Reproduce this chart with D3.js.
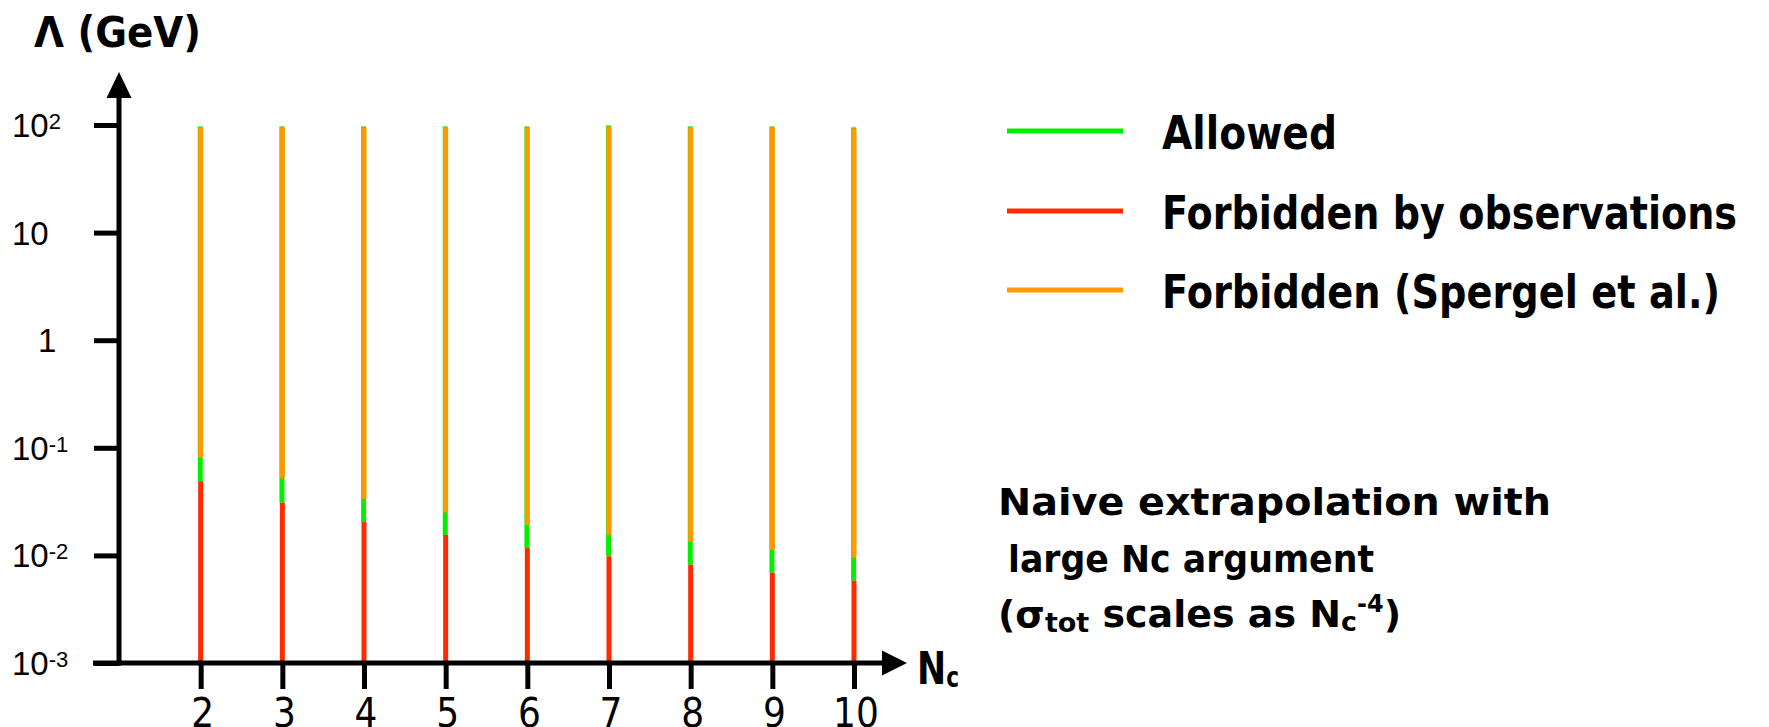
<!DOCTYPE html>
<html lang="en">
  <head>
    <meta charset="utf-8">
    <title>Lambda vs Nc</title>
    <style>
      body { margin: 0; background: #fff; }
      svg { display: block; }
      .bold { font-family: "DejaVu Sans", sans-serif; font-weight: bold; fill: #000; }
      .ticklab { font-family: "Liberation Sans", Arial, sans-serif; fill: #000; }
      .xlab { font-family: "Liberation Sans Narrow", "DejaVu Sans Condensed", sans-serif; font-stretch: condensed; fill: #000; }
    </style>
  </head>
  <body>
    <script src="https://d3js.org/d3.v7.min.js"></script>
    <script>
      // data
      const nc = [2, 3, 4, 5, 6, 7, 8, 9, 10];
      const observedTop = [0.049, 0.031, 0.0204, 0.0155, 0.0117, 0.0098, 0.0082, 0.0069, 0.0058];
      const allowedTop = [0.081, 0.052, 0.0335, 0.025, 0.0192, 0.0155, 0.0134, 0.0112, 0.0095];
      const barTop = [95, 95, 95, 95, 95, 97, 95, 95, 93];
      const yTicks = [1e-3, 1e-2, 1e-1, 1, 10, 100];
      const yTickBase = ["10", "10", "10", "1", "10", "10"];
      const yTickExp = ["-3", "-2", "-1", "", "", "2"];
      const legendLabels = ["Allowed", "Forbidden by observations", "Forbidden (Spergel et al.)"];
      const legendColors = ["#00f000", "#ff2a00", "#ff9900"];

      const w = 1769, h = 727;
      const svg = d3.select("body").append("svg").attr("width", w).attr("height", h);

      const x = d3.scaleLinear().domain([1, 10]).range([119, 854]);
      const y = d3.scaleLog().domain([1e-3, 1e2]).range([663, 125]);

      const barW = 5;

      // bars: red from bottom, green above, orange on top
      const bars = svg.append("g");
      nc.forEach((n, i) => {
        const cx = x(n);
        bars.append("rect")
          .attr("x", cx - barW / 2 - 0.4).attr("width", barW)
          .attr("y", y(barTop[i]) - 1).attr("height", y(observedTop[i]) - y(barTop[i]) + 1)
          .attr("fill", legendColors[0]);
        bars.append("rect")
          .attr("x", cx - barW / 2).attr("width", barW)
          .attr("y", y(barTop[i])).attr("height", y(allowedTop[i]) - y(barTop[i]))
          .attr("fill", legendColors[2]);
        bars.append("rect")
          .attr("x", cx - barW / 2).attr("width", barW)
          .attr("y", y(observedTop[i])).attr("height", y(1e-3) - y(observedTop[i]))
          .attr("fill", legendColors[1]);
      });

      // axes
      const yAxis = d3.axisLeft(y).tickValues(yTicks).tickSize(25).tickFormat("");
      const gy = svg.append("g").attr("transform", `translate(${x(1)},0)`).call(yAxis);
      gy.select(".domain").remove();
      gy.selectAll("line").attr("stroke", "#000").attr("stroke-width", 5);

      const xAxis = d3.axisBottom(x).tickValues(nc).tickSize(26).tickFormat("");
      const gx = svg.append("g").attr("transform", `translate(0,${y(1e-3)})`).call(xAxis);
      gx.select(".domain").remove();
      gx.selectAll("line").attr("stroke", "#000").attr("stroke-width", 5);

      // axis lines with arrows
      svg.append("line").attr("x1", 93).attr("x2", 884).attr("y1", y(1e-3)).attr("y2", y(1e-3))
        .attr("stroke", "#000").attr("stroke-width", 5);
      svg.append("path").attr("d", `M882,650.5 L907,663 L882,675.5 Z`).attr("fill", "#000");
      svg.append("line").attr("x1", x(1)).attr("x2", x(1)).attr("y1", y(1e-3) + 2.5).attr("y2", 96)
        .attr("stroke", "#000").attr("stroke-width", 5);
      svg.append("path").attr("d", `M${x(1) - 12.5},98 L${x(1)},72 L${x(1) + 12.5},98 Z`).attr("fill", "#000");

      // y tick labels
      yTicks.forEach((v, i) => {
        const t = svg.append("text").attr("class", "ticklab")
          .attr("x", yTickBase[i] === "1" ? 38 : 12)
          .attr("y", y(v) + 12)
          .style("font-size", "33px");
        t.append("tspan").text(yTickBase[i]);
        if (yTickExp[i]) {
          t.append("tspan").attr("dy", -8).style("font-size", "22px").text(yTickExp[i]);
        }
      });

      // x tick labels
      svg.append("g").selectAll("text").data(nc).join("text")
        .attr("class", "xlab")
        .attr("x", d => x(d) + 2)
        .attr("y", 727)
        .attr("text-anchor", "middle")
        .style("font-size", "40px")
        .text(d => d);

      // axis titles
      svg.append("text").attr("class", "bold")
        .attr("x", 34).attr("y", 47)
        .attr("textLength", 167).attr("lengthAdjust", "spacingAndGlyphs")
        .style("font-size", "42px")
        .text("Λ (GeV)");

      const ncLab = svg.append("text").attr("class", "bold")
        .attr("x", 917).attr("y", 684)
        .attr("textLength", 42).attr("lengthAdjust", "spacingAndGlyphs")
        .style("font-size", "45px");
      ncLab.append("tspan").text("N");
      ncLab.append("tspan").attr("dy", 3).style("font-size", "28px").text("c");

      // legend
      const legendY = [131, 211, 290];
      const legendW = [175, 575, 558];
      legendLabels.forEach((lab, i) => {
        svg.append("line")
          .attr("x1", 1007).attr("x2", 1123)
          .attr("y1", legendY[i]).attr("y2", legendY[i])
          .attr("stroke", legendColors[i]).attr("stroke-width", 5);
        svg.append("text").attr("class", "bold")
          .attr("x", 1162).attr("y", legendY[i] + 18)
          .attr("textLength", legendW[i]).attr("lengthAdjust", "spacingAndGlyphs")
          .style("font-size", "46px")
          .text(lab);
      });

      // annotation
      svg.append("text").attr("class", "bold")
        .attr("x", 998).attr("y", 515)
        .attr("textLength", 553).attr("lengthAdjust", "spacingAndGlyphs")
        .style("font-size", "38px")
        .text("Naive extrapolation with");
      svg.append("text").attr("class", "bold")
        .attr("x", 1008).attr("y", 572)
        .attr("textLength", 366).attr("lengthAdjust", "spacingAndGlyphs")
        .style("font-size", "38px")
        .text("large Nc argument");
      const a3 = svg.append("text").attr("class", "bold")
        .attr("x", 998).attr("y", 627)
        .attr("textLength", 403).attr("lengthAdjust", "spacingAndGlyphs")
        .style("font-size", "38px");
      a3.append("tspan").text("(σ");
      a3.append("tspan").attr("dy", 5).style("font-size", "27px").text("tot");
      a3.append("tspan").attr("dy", -5).text(" scales as N");
      a3.append("tspan").attr("dy", 4).style("font-size", "27px").text("c");
      a3.append("tspan").attr("dy", -19).style("font-size", "24px").text("-4");
      a3.append("tspan").attr("dy", 15).text(")");
    </script>
  </body>
</html>
